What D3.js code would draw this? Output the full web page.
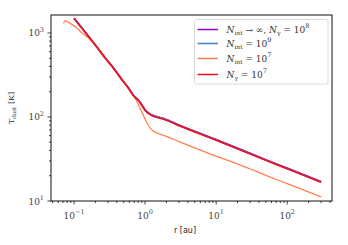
<!DOCTYPE html>
<html>
<head>
<meta charset="utf-8">
<script src="https://cdn.jsdelivr.net/npm/d3@7"></script>
<style>
  body { margin: 0; background: #fff; }
  svg text { font-family: "DejaVu Serif", "Liberation Serif", serif; }
</style>
</head>
<body>
<div id="chart"></div>
<script>
// data
const rRed = [0.1, 0.125, 0.161, 0.2, 0.276, 0.35, 0.474, 0.58, 0.69, 0.8, 0.86, 0.95, 1.0, 1.1, 1.19, 1.4, 1.83, 3, 10, 22, 50, 100, 300];
const tRed = [1496, 1180, 903, 715, 500, 392, 276, 222, 178, 158, 146, 128, 120, 111, 106, 100, 94, 79, 53, 40.5, 30.5, 24.2, 16.7];
const tPurple = [1500, 1185, 905, 718, 502, 395, 278, 224, 180, 160, 148, 130, 122, 113, 108, 102, 95.5, 80.2, 53.8, 41.2, 31, 24.6, 17];
const tBlue = [1498, 1182, 904, 716, 501, 393, 277, 223, 179, 159, 147, 129, 121, 112, 107, 101, 95, 79.6, 53.4, 40.8, 30.8, 24.4, 16.8];
const rOrange = [0.0714, 0.0738, 0.085, 0.104, 0.13, 0.161, 0.2, 0.276, 0.35, 0.474, 0.58, 0.66, 0.75, 0.85, 0.95, 1.05, 1.15, 1.3, 1.5, 1.83, 3, 10, 22, 50, 100, 300];
const tOrange = [1303, 1390, 1330, 1189, 1000, 865, 715, 500, 392, 276, 218, 188, 158, 127, 104, 87, 76, 68, 64, 60.5, 51, 34.2, 26.8, 20.2, 16.1, 11.2];

const series = [
  { name: "purple", r: rRed, t: tPurple, color: "#9400d3" },
  { name: "blue", r: rRed, t: tBlue, color: "#3d85c6" },
  { name: "orange", r: rOrange, t: tOrange, color: "#ff7f50" },
  { name: "red", r: rRed, t: tRed, color: "#f0101c" }
];

const xTicks = [0.1, 1, 10, 100];
const xTickExp = ["\u22121", "0", "1", "2"];
const yTicks = [10, 100, 1000];
const yTickExp = ["1", "2", "3"];

const width = 348, height = 245;
const margin = { left: 51, top: 15, right: 16, bottom: 44 };

const svg = d3.select("#chart").append("svg")
  .attr("width", width)
  .attr("height", height);

const x = d3.scaleLog().domain([0.0474, 427]).range([margin.left, width - margin.right]);
const y = d3.scaleLog().domain([10, 1637]).range([height - margin.bottom, margin.top]);

// minor ticks
const xMinor = [];
for (let e = -2; e <= 2; e++) for (let k = 2; k <= 9; k++) {
  const v = k * Math.pow(10, e);
  if (v > x.domain()[0] && v < x.domain()[1]) xMinor.push(v);
}
const yMinor = [];
for (let e = 1; e <= 3; e++) for (let k = 2; k <= 9; k++) {
  const v = k * Math.pow(10, e);
  if (v > y.domain()[0] && v < y.domain()[1]) yMinor.push(v);
}

const plot = svg.append("g");

// lines
const line = d3.line()
  .x(d => x(d[0]))
  .y(d => y(d[1]))
  .curve(d3.curveMonotoneX);

series.forEach(s => {
  const pts = s.r.map((r, i) => [r, s.t[i]]);
  plot.append("path")
    .datum(pts)
    .attr("fill", "none")
    .attr("stroke", s.color)
    .attr("stroke-width", s.name === "orange" ? 1.3 : 1.7)
    .attr("stroke-linejoin", "round")
    .attr("d", line);
});

// frame
svg.append("rect")
  .attr("x", margin.left)
  .attr("y", margin.top)
  .attr("width", width - margin.right - margin.left)
  .attr("height", height - margin.bottom - margin.top)
  .attr("fill", "none")
  .attr("stroke", "#111")
  .attr("stroke-width", 1);

// x axis
const xAxis = svg.append("g").attr("transform", `translate(0,${height - margin.bottom})`);
xAxis.selectAll("line.minor").data(xMinor).enter().append("line")
  .attr("x1", d => x(d)).attr("x2", d => x(d))
  .attr("y1", 0).attr("y2", 2)
  .attr("stroke", "#111").attr("stroke-width", 0.8);
xAxis.selectAll("line.major").data(xTicks).enter().append("line")
  .attr("x1", d => x(d)).attr("x2", d => x(d))
  .attr("y1", 0).attr("y2", 3.5)
  .attr("stroke", "#111").attr("stroke-width", 0.8);
const xl = xAxis.selectAll("text").data(xTicks).enter().append("text")
  .attr("x", d => x(d))
  .attr("y", 17.5)
  .attr("text-anchor", "middle")
  .attr("font-size", 9)
  .attr("fill", "#444");
xl.append("tspan").text("10");
xl.append("tspan").attr("dy", -4.5).attr("font-size", 6.5).text((d, i) => xTickExp[i]);

// y axis
const yAxis = svg.append("g").attr("transform", `translate(${margin.left},0)`);
yAxis.selectAll("line.minor").data(yMinor).enter().append("line")
  .attr("x1", -2).attr("x2", 0)
  .attr("y1", d => y(d)).attr("y2", d => y(d))
  .attr("stroke", "#111").attr("stroke-width", 0.8);
yAxis.selectAll("line.major").data(yTicks).enter().append("line")
  .attr("x1", -3.5).attr("x2", 0)
  .attr("y1", d => y(d)).attr("y2", d => y(d))
  .attr("stroke", "#111").attr("stroke-width", 0.8);
const yl = yAxis.selectAll("text").data(yTicks).enter().append("text")
  .attr("x", -7)
  .attr("y", d => y(d) + 3.5)
  .attr("text-anchor", "end")
  .attr("font-size", 9)
  .attr("fill", "#444");
yl.append("tspan").text("10");
yl.append("tspan").attr("dy", -4.5).attr("font-size", 6.5).text((d, i) => yTickExp[i]);

// axis labels
svg.append("text")
  .attr("x", 185)
  .attr("y", 233)
  .attr("text-anchor", "middle")
  .attr("font-size", 8)
  .style("font-family", "'DejaVu Sans', sans-serif")
  .attr("fill", "#222")
  .text("r [au]");

const ylab = svg.append("text")
  .attr("transform", "translate(14,108) rotate(-90)")
  .attr("text-anchor", "middle")
  .attr("font-size", 8)
  .attr("fill", "#333");
ylab.append("tspan").text("T");
ylab.append("tspan").attr("dy", 2).attr("font-size", 5.5).text("dust");
ylab.append("tspan").attr("dy", -2).text(" [K]");

// legend
const legend = svg.append("g");
legend.append("rect")
  .attr("x", 194.5).attr("y", 19.5)
  .attr("width", 133.5).attr("height", 64.5)
  .attr("rx", 2)
  .attr("fill", "#fff")
  .attr("fill-opacity", 0.85)
  .attr("stroke", "#d0d0d0")
  .attr("stroke-width", 0.8);

const legendY = [29.5, 43.5, 58.5, 74.5];
const legendLabels = [
  [["N", "i"], ["int", "sub"], [" \u2192 \u221e, ", "r"], ["N", "i"], ["\u03b3", "sub"], [" = 10", "r"], ["8", "sup"]],
  [["N", "i"], ["int", "sub"], [" = 10", "r"], ["9", "sup"]],
  [["N", "i"], ["int", "sub"], [" = 10", "r"], ["7", "sup"]],
  [["N", "i"], ["\u03b3", "sub"], [" = 10", "r"], ["7", "sup"]]
];

series.forEach((s, i) => {
  legend.append("line")
    .attr("x1", 197.5).attr("x2", 218)
    .attr("y1", legendY[i]).attr("y2", legendY[i])
    .attr("stroke", s.color)
    .attr("stroke-width", 1.5);
  const t = legend.append("text")
    .attr("x", 226.5)
    .attr("y", legendY[i] + 3)
    .attr("font-size", 9)
    .attr("fill", "#333");
  let shift = 0;
  legendLabels[i].forEach(([txt, kind]) => {
    const ts = t.append("tspan").text(txt);
    let target = 0;
    if (kind === "i") ts.attr("font-style", "italic");
    if (kind === "sub") { ts.attr("font-size", 6); target = 2; }
    if (kind === "sup") { ts.attr("font-size", 6.5); target = -4.5; }
    ts.attr("dy", target - shift);
    shift = target;
  });
});
</script>
</body>
</html>
